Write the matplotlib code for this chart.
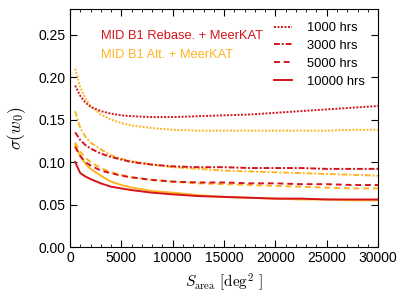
import matplotlib
matplotlib.use("Agg")
import matplotlib.pyplot as plt
import numpy as np
from matplotlib.ticker import MultipleLocator

plt.rcParams['font.family'] = ['Liberation Sans', 'DejaVu Sans']
plt.rcParams['mathtext.fontset'] = 'cm'

area = [500, 1000, 1500, 2000, 3000, 4000, 5000, 6000, 8000, 10000, 12500, 15000, 17500, 20000, 22500, 25000, 27500, 30000]

red_1000 = [0.190, 0.178, 0.170, 0.165, 0.160, 0.157, 0.155, 0.154, 0.153, 0.153, 0.154, 0.155, 0.156, 0.158, 0.160, 0.162, 0.164, 0.166]
orange_1000 = [0.210, 0.188, 0.175, 0.166, 0.156, 0.150, 0.146, 0.143, 0.140, 0.138, 0.137, 0.137, 0.137, 0.137, 0.137, 0.137, 0.138, 0.138]
red_3000 = [0.135, 0.126, 0.120, 0.116, 0.110, 0.106, 0.103, 0.100, 0.097, 0.095, 0.094, 0.094, 0.093, 0.093, 0.093, 0.092, 0.092, 0.092]
orange_3000 = [0.160, 0.140, 0.130, 0.123, 0.115, 0.108, 0.104, 0.101, 0.097, 0.094, 0.092, 0.090, 0.089, 0.088, 0.087, 0.086, 0.085, 0.084]
red_5000 = [0.118, 0.107, 0.100, 0.096, 0.090, 0.087, 0.084, 0.082, 0.079, 0.077, 0.076, 0.076, 0.075, 0.075, 0.074, 0.074, 0.073, 0.073]
orange_5000 = [0.123, 0.112, 0.105, 0.100, 0.093, 0.088, 0.085, 0.082, 0.079, 0.077, 0.075, 0.074, 0.073, 0.072, 0.071, 0.070, 0.069, 0.069]
red_10000 = [0.100, 0.087, 0.083, 0.080, 0.075, 0.071, 0.069, 0.067, 0.064, 0.062, 0.060, 0.059, 0.058, 0.057, 0.057, 0.056, 0.056, 0.056]
orange_10000 = [0.120, 0.107, 0.098, 0.092, 0.084, 0.077, 0.073, 0.070, 0.066, 0.064, 0.061, 0.059, 0.058, 0.057, 0.056, 0.056, 0.055, 0.055]

hours_labels = ['1000 hrs', '3000 hrs', '5000 hrs', '10000 hrs']
red_c = '#d4141c'
orange_c = '#ffb424'

styles = [(0, (1, 0.8)), (0, (3, 1, 1, 1)), (0, (3, 2)), '-']

fig = plt.figure(figsize=(4.07, 3.05), dpi=100)
ax = fig.add_axes([0.172, 0.190, 0.757, 0.780])

red_series = [red_1000, red_3000, red_5000, red_10000]
orange_series = [orange_1000, orange_3000, orange_5000, orange_10000]

for ys, ls in zip(orange_series, styles):
    ax.plot(area, ys, color=orange_c, ls=ls, lw=1.4)
handles = []
for ys, ls, lab in zip(red_series, styles, hours_labels):
    h, = ax.plot(area, ys, color=red_c, ls=ls, lw=1.4, label=lab)
    handles.append(h)

ax.set_xlim(0, 30000)
ax.set_ylim(0, 0.28)
ax.xaxis.set_major_locator(MultipleLocator(5000))
ax.xaxis.set_minor_locator(MultipleLocator(1000))
ax.set_yticks([0.0, 0.05, 0.10, 0.15, 0.20, 0.25])
ax.set_yticklabels(['0.00', '0.05', '0.10', '0.15', '0.20', '0.25'])
ax.tick_params(which='both', direction='in', top=True, right=True, labelsize=10)
ax.tick_params(which='major', length=5, pad=3)
ax.tick_params(which='minor', length=2.5)
ax.tick_params(axis='y', which='minor', left=False, right=False)

ax.set_xlabel(r'$S_{\rm area}\ [{\rm deg}^2\ ]$', fontsize=11, labelpad=4)
ax.set_ylabel(r'$\sigma(w_0)$', fontsize=12.5, labelpad=8)

ax.text(0.10, 0.875, 'MID B1 Rebase. + MeerKAT', color=red_c, fontsize=9.3, transform=ax.transAxes)
ax.text(0.10, 0.795, 'MID B1 Alt. + MeerKAT', color=orange_c, fontsize=9.3, transform=ax.transAxes)

ax.legend(handles=handles, loc='upper right', frameon=False, fontsize=9.3,
          handlelength=1.4, handletextpad=1.2, labelspacing=0.45,
          borderaxespad=0.5, borderpad=0.5)

fig.savefig('out.png', dpi=100)
